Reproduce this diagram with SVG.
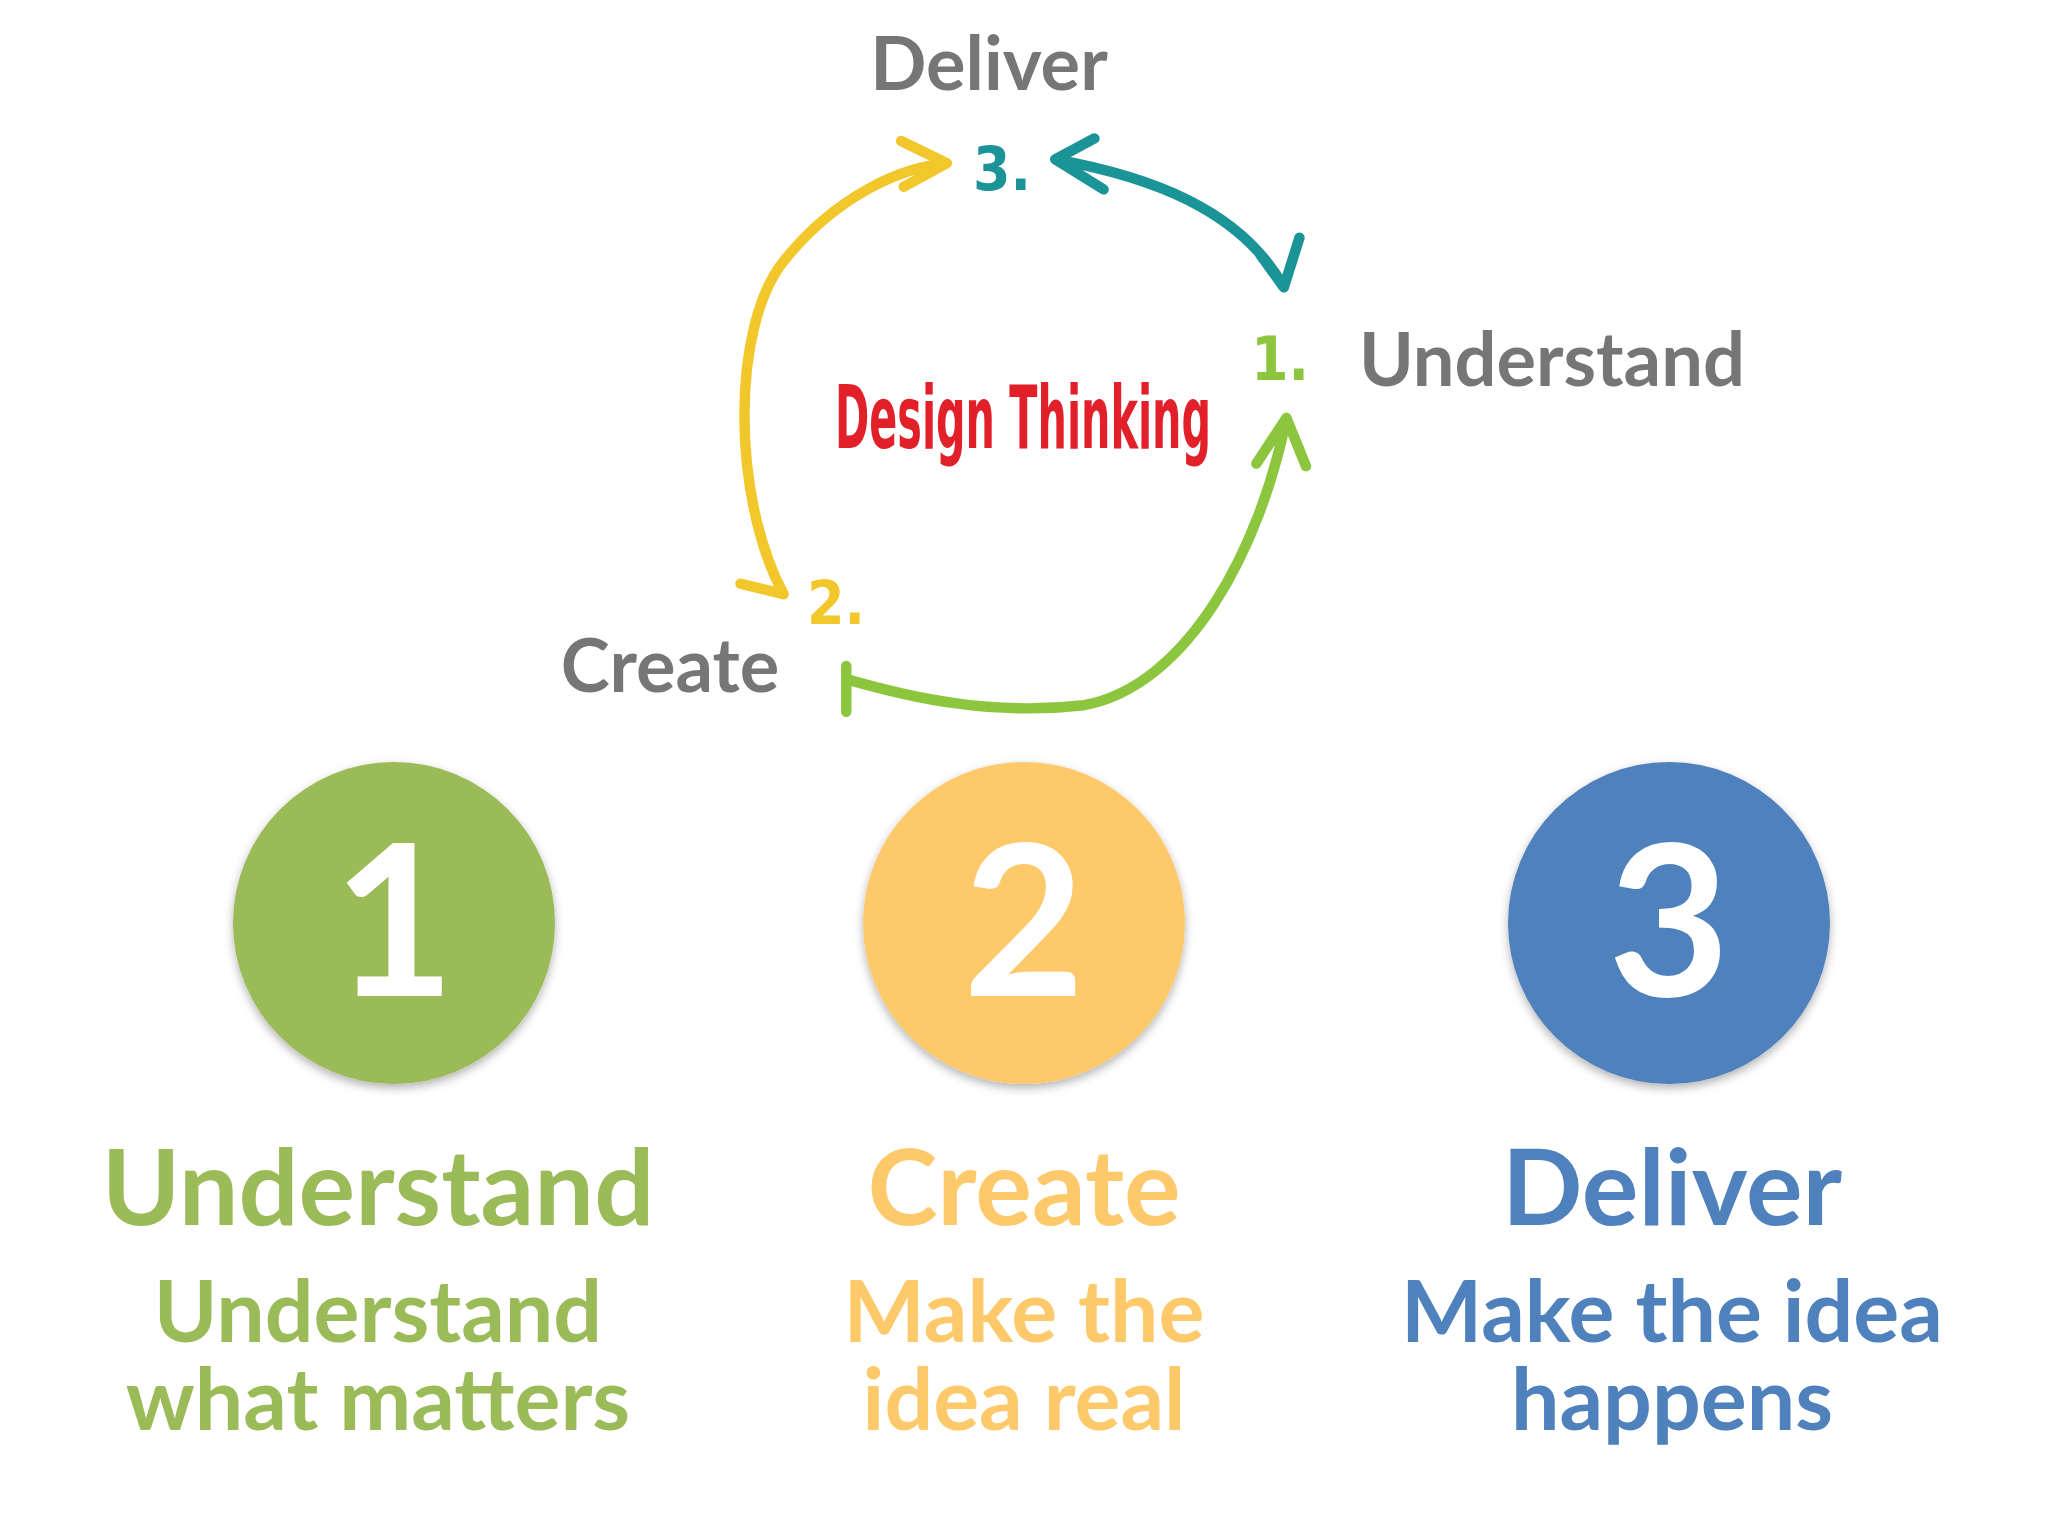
<svg xmlns="http://www.w3.org/2000/svg" width="2048" height="1536" viewBox="0 0 2048 1536">
<style>
text{font-family:Lato,"Open Sans","Liberation Sans",sans-serif;font-weight:bold;text-anchor:middle}
.gray{fill:#767676;font-size:74px}
.num{fill:#fff;font-size:210px}
.title{font-size:106px}
.sub{font-size:86px}
.arr{fill:none;stroke-width:8;stroke-linecap:round;stroke-linejoin:round}
.step{font-family:"DejaVu Sans Condensed","Liberation Sans Narrow",sans-serif;font-size:60px;font-stretch:condensed}
</style>
<defs>
<filter id="sh" x="-20%" y="-20%" width="140%" height="140%"><feDropShadow dx="0" dy="4" stdDeviation="5" flood-color="#000" flood-opacity="0.3"/></filter>
</defs>
<rect width="2048" height="1536" fill="#fff"/>
<g id="connectors" transform="scale(1.306)">
<path class="arr" stroke="#f2c72b" d="M567 447 L600 455 C560 380 560 250 600 200 C640 150 690 128 725 125 M690 108 L725 125 L692 143"/>
<path class="arr" stroke="#1b9497" d="M808 122 C880 135 950 160 983 220 M838 106 L808 122 L845 145 M965 195 L983 220 L995 182"/>
<path class="arr" stroke="#8cc63f" d="M648 510 L648 545 M648 520 C700 535 760 548 830 540 C910 525 965 420 985 320 M962 355 L985 320 L1000 357"/>
</g>
<g id="cycle-labels">
<text class="gray" x="989" y="90">Deliver</text>
<text class="step" x="1002" y="190" fill="#1b9497">3.</text>
<text class="step" x="1280" y="380" fill="#8cc63f">1.</text>
<text class="step" x="836" y="624" fill="#f2c72b">2.</text>
<text class="gray" x="1552" y="386">Understand</text>
<text class="gray" x="670" y="692">Create</text>
<text x="1023" y="448" fill="#e2202a" style="font-family:'DejaVu Sans Condensed',sans-serif;font-size:88px;font-stretch:condensed" textLength="376" lengthAdjust="spacingAndGlyphs">Design Thinking</text>
</g>
<g id="node1">
<circle cx="394" cy="923" r="161" fill="#9bbb59" filter="url(#sh)"/>
<text class="num" x="394" y="996">1</text>
<text class="title" x="378" y="1225" fill="#9bbb59">Understand</text>
<text class="sub" x="378" y="1342" fill="#9bbb59">Understand</text>
<text class="sub" x="378" y="1430" fill="#9bbb59">what matters</text>
</g>
<g id="node2">
<circle cx="1024" cy="923" r="161" fill="#fdc96a" filter="url(#sh)"/>
<text class="num" x="1024" y="996">2</text>
<text class="title" x="1024" y="1225" fill="#fdc96a">Create</text>
<text class="sub" x="1024" y="1342" fill="#fdc96a">Make the</text>
<text class="sub" x="1024" y="1430" fill="#fdc96a">idea real</text>
</g>
<g id="node3">
<circle cx="1669" cy="923" r="161" fill="#4f81bd" filter="url(#sh)"/>
<text class="num" x="1669" y="996">3</text>
<text class="title" x="1672" y="1225" fill="#4f81bd">Deliver</text>
<text class="sub" x="1672" y="1342" fill="#4f81bd">Make the idea</text>
<text class="sub" x="1672" y="1430" fill="#4f81bd">happens</text>
</g>
</svg>
